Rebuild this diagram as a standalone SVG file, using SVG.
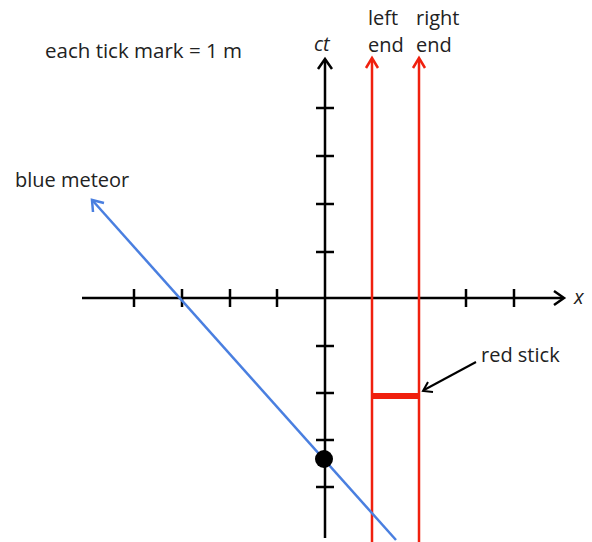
<svg xmlns="http://www.w3.org/2000/svg" width="592" height="542" viewBox="0 0 592 542">
<style>
text{font-family:"Open Sans","Liberation Sans",sans-serif;font-size:20px;fill:#222}
.it{font-style:italic}
.ax{stroke:#000;stroke-width:2.5;fill:none}
.tk{stroke:#000;stroke-width:2.5}
.rd{stroke:#f0200e;stroke-width:2.5;fill:none}
.bl{stroke:#4a7fe0;stroke-width:2.5;fill:none}
</style>
<rect width="592" height="542" fill="#fff"/>
<g id="title"><text x="45" y="58" textLength="197" lengthAdjust="spacingAndGlyphs">each tick mark = 1 m</text></g>
<g id="connectors">
  <!-- x axis -->
  <line class="ax" x1="82" y1="298" x2="563" y2="298"/>
  <polyline class="ax" points="554,291 564,298 554,305"/>
  <!-- ct axis -->
  <line class="ax" x1="325" y1="538" x2="325" y2="60"/>
  <polyline class="ax" points="318,69 325,59 332,69"/>
  <g class="tk">
    <line x1="134" y1="289" x2="134" y2="307"/>
    <line x1="182" y1="289" x2="182" y2="307"/>
    <line x1="230" y1="289" x2="230" y2="307"/>
    <line x1="277" y1="289" x2="277" y2="307"/>
    <line x1="466" y1="289" x2="466" y2="307"/>
    <line x1="514" y1="289" x2="514" y2="307"/>
    <line x1="316" y1="108" x2="334" y2="108"/>
    <line x1="316" y1="156" x2="334" y2="156"/>
    <line x1="316" y1="204" x2="334" y2="204"/>
    <line x1="316" y1="252" x2="334" y2="252"/>
    <line x1="316" y1="346" x2="334" y2="346"/>
    <line x1="316" y1="393" x2="334" y2="393"/>
    <line x1="316" y1="440" x2="334" y2="440"/>
    <line x1="316" y1="487" x2="334" y2="487"/>
  </g>
  <line class="rd" x1="372" y1="542" x2="372" y2="59"/>
  <polyline class="rd" points="366,68 372,58 378,68"/>
  <line class="rd" x1="419" y1="542" x2="419" y2="59"/>
  <polyline class="rd" points="413,68 419,58 425,68"/>
  <line class="bl" x1="396" y1="540" x2="93" y2="201"/>
  <polyline class="bl" points="93,212 92,200 104,203"/>
  <line stroke="#000" stroke-width="2" x1="476" y1="362" x2="424" y2="390"/>
  <polyline stroke="#000" stroke-width="2" fill="none" points="428,382 423,391 433,392"/>
</g>
<g id="stick"><line stroke="#f0200e" stroke-width="6" x1="372" y1="396" x2="419" y2="396"/></g>
<g id="event"><circle cx="324" cy="459" r="9" fill="#000"/></g>
<g id="labels">
  <text class="it" x="314" y="51">ct</text>
  <text class="it" x="574" y="304">x</text>
  <text x="368" y="25">left</text>
  <text x="368" y="52">end</text>
  <text x="416" y="25">right</text>
  <text x="416" y="52">end</text>
  <text x="15" y="187">blue meteor</text>
  <text x="481" y="362">red stick</text>
</g>
</svg>
